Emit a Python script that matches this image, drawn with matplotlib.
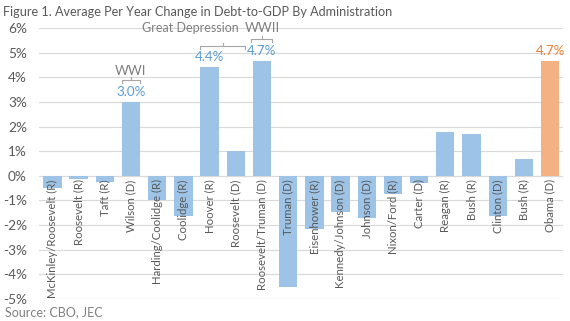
import matplotlib
matplotlib.use("Agg")
import matplotlib.pyplot as plt
import numpy as np

categories = ["McKinley/Roosevelt (R)", "Roosevelt (R)", "Taft (R)", "Wilson (D)",
              "Harding/Coolidge (R)", "Coolidge (R)", "Hoover (R)", "Roosevelt (D)",
              "Roosevelt/Truman (D)", "Truman (D)", "Eisenhower (R)", "Kennedy/Johnson (D)",
              "Johnson (D)", "Nixon/Ford (R)", "Carter (D)", "Reagan (R)", "Bush (R)",
              "Clinton (D)", "Bush (R)", "Obama (D)"]
values = [-0.50, -0.12, -0.24, 3.0, -0.97, -1.63, 4.4, 1.0, 4.65, -4.53, -2.15, -1.47,
          -1.73, -0.72, -0.31, 1.77, 1.69, -1.63, 0.69, 4.65]
labeled = {3: "3.0%", 6: "4.4%", 8: "4.7%", 19: "4.7%"}
yticks = [-5, -4, -3, -2, -1, 0, 1, 2, 3, 4, 5, 6]

plt.rcParams['font.family'] = ['Lato', 'DejaVu Sans']

fig = plt.figure(figsize=(5.70, 3.21), dpi=100)
ax = fig.add_axes([0.069, 0.0685, 0.919, 0.8445])

blue = "#9DC3E6"
orange = "#F4B183"
colors = [blue] * (len(values) - 1) + [orange]
x = np.arange(len(values))
ax.bar(x, values, width=0.70, color=colors, zorder=2)

ax.set_xlim(-0.5, len(values) - 0.5)
ax.set_ylim(-5, 6)
ax.set_yticks(yticks)
ax.set_yticklabels([f"{t}%" for t in yticks], color="#595959", fontsize=9.8)
ax.tick_params(axis='y', length=0, pad=9)
ax.set_xticks([])
for s in ax.spines.values():
    s.set_visible(False)
ax.grid(axis='y', color="#D9D9D9", linewidth=0.8, zorder=0)
ax.axhline(0, color="#D9D9D9", linewidth=0.8, zorder=1)

for i, c in enumerate(categories):
    ax.annotate(c, (i, 0), xytext=(0, -2.5), textcoords='offset points',
                rotation=90, ha='center', va='top', fontsize=8.2, color="#595959",
                zorder=3)

for i, t in labeled.items():
    col = "#ED7D31" if i == 19 else "#5B9BD5"
    ax.annotate(t, (i, values[i]), xytext=(0, 3), textcoords='offset points',
                ha='center', va='bottom', fontsize=9.6, color=col)

gray = "#A6A6A6"
def bracket(x0, x1, y, xm):
    ax.plot([x0, x0, x1, x1], [y - 0.12, y, y, y - 0.12], color=gray, lw=0.8, clip_on=False)
    ax.plot([xm, xm], [y, y + 0.12], color=gray, lw=0.8, clip_on=False)

bracket(3 - 0.35, 3 + 0.35, 3.87, 3)
bracket(6 - 0.35, 7 + 0.35, 5.28, 6.5)
bracket(8 - 0.40, 8 + 0.40, 5.54, 8)
ax.text(3, 4.26, "WWI", ha='center', va='center', fontsize=9.6, color="#7F7F7F")
ax.text(5.25, 6.0, "Great Depression", ha='center', va='center', fontsize=9.0,
        color="#7F7F7F", clip_on=False)
ax.text(8.02, 6.0, "WWII", ha='center', va='center', fontsize=9.6, color="#7F7F7F",
        clip_on=False)

fig.text(0.005, 0.962, "Figure 1. Average Per Year Change in Debt-to-GDP By Administration",
         ha='left', va='center', fontsize=9.1, color="#595959")
fig.text(0.008, 0.027, "Source: CBO, JEC", ha='left', va='center', fontsize=9.0,
         color="#7F7F7F")

fig.savefig("out.png", dpi=100)
